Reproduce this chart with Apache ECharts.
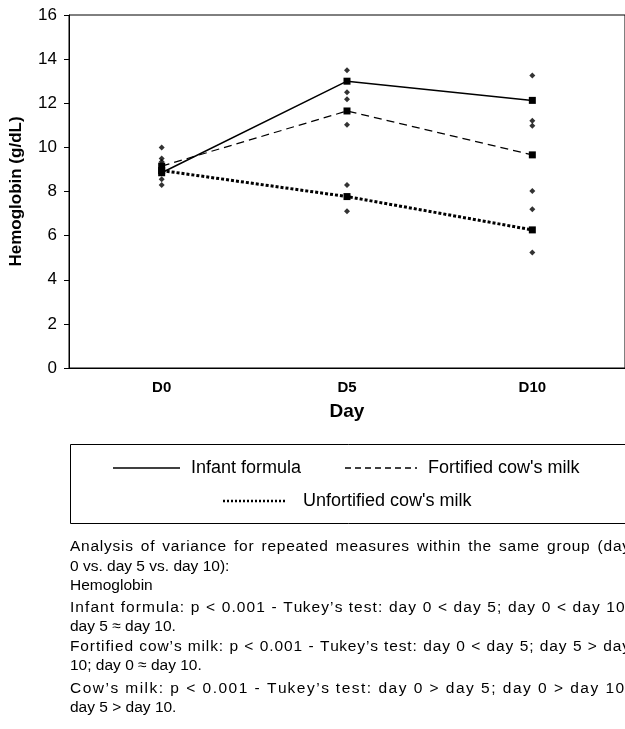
<!DOCTYPE html>
<html>
<head>
<meta charset="utf-8">
<script src="https://cdn.jsdelivr.net/npm/echarts@6/dist/echarts.min.js"></script>
<style>
html,body{margin:0;padding:0;background:#fff;}
#chart{width:625px;height:729px;}
</style>
</head>
<body>
<div id="chart"></div>
<script>
// ---- data ----
const categories = ['D0', 'D5', 'D10'];
const yTicks = [0, 2, 4, 6, 8, 10, 12, 14, 16];
const infantFormula = [8.85, 13.0, 12.13];
const fortifiedMilk = [9.15, 11.65, 9.66];
const unfortifiedMilk = [8.95, 7.77, 6.26];
// individual spread points (diamonds) per day
const pointsD0 = [10.0, 9.5, 9.35, 8.55, 8.3];
const pointsD5 = [13.5, 12.5, 12.18, 11.02, 8.3, 7.1];
const pointsD10 = [13.26, 11.21, 10.98, 8.02, 7.19, 5.23];
const seriesNames = ['Infant formula', "Fortified cow's milk", "Unfortified cow's milk"];
const noteLines = [
  'Analysis of variance for repeated measures within the same group (day',
  '0 vs. day 5 vs. day 10):',
  'Hemoglobin',
  'Infant formula: p < 0.001 - Tukey\u2019s test: day 0 < day 5; day 0 < day 10;',
  'day 5 \u2248 day 10.',
  'Fortified cow\u2019s milk: p < 0.001 - Tukey\u2019s test: day 0 < day 5; day 5 > day',
  '10; day 0 \u2248 day 10.',
  'Cow\u2019s milk: p < 0.001 - Tukey\u2019s test: day 0 > day 5; day 0 > day 10;',
  'day 5 > day 10.'
];
const justifiedLines = [true, false, false, true, false, true, false, true, false];

const FONT = "'Liberation Sans', Arial, Helvetica, sans-serif";
const spreadData = [];
[pointsD0, pointsD5, pointsD10].forEach((arr, i) => arr.forEach(v => spreadData.push([categories[i], v])));

const chart = echarts.init(document.getElementById('chart'), null, {renderer: 'canvas'});

const graphics = [];
// legend box
graphics.push({type: 'rect', left: 68, top: 442, shape: {width: 620, height: 79},
  style: {fill: 'none', stroke: '#000', lineWidth: 1}, z: 10});
function legendItem(x1, x2, y, textX, label, lineStyle) {
  graphics.push({type: 'line', shape: {x1: x1, y1: y, x2: x2, y2: y},
    style: Object.assign({stroke: '#000'}, lineStyle), z: 10});
  graphics.push({type: 'text', x: textX, y: y,
    style: {text: label, fill: '#000', font: '18px ' + FONT, textVerticalAlign: 'middle', textAlign: 'left'}, z: 10});
}
legendItem(113, 180, 468, 191, seriesNames[0], {lineWidth: 1.5});
legendItem(345, 417, 468, 428, seriesNames[1], {lineWidth: 1.3, lineDash: [6, 4]});
legendItem(223, 285, 501, 303, seriesNames[2], {lineWidth: 2.5, lineDash: [2, 2]});

// notes (justified lines: extra space shared between word gaps and letter gaps)
const noteFont = '15.5px ' + FONT;
const ctx = document.createElement('canvas').getContext('2d');
ctx.font = noteFont;
const noteY = [547, 567, 586, 608, 627, 647, 666, 689, 708];
const noteLeft = 70, noteRight = 630;
noteLines.forEach((t, i) => {
  if (!justifiedLines[i]) {
    graphics.push({type: 'text', x: noteLeft, y: noteY[i],
      style: {text: t, fill: '#000', font: noteFont, textVerticalAlign: 'middle', textAlign: 'left'}});
    return;
  }
  const chars = Array.from(t);
  const natural = ctx.measureText(t).width;
  const extra = noteRight - noteLeft - natural;
  let nSpaces = 0, nLetterGaps = 0;
  for (let k = 0; k < chars.length - 1; k++) {
    if (chars[k] === ' ') nSpaces++;
    else if (chars[k + 1] !== ' ') nLetterGaps++;
  }
  const perSpace = extra * 0.5 / nSpaces;
  const perLetter = extra * 0.5 / nLetterGaps;
  let prefix = '';
  let offset = 0;
  chars.forEach((c, k) => {
    const px = noteLeft + ctx.measureText(prefix).width + offset;
    if (c !== ' ') {
      graphics.push({type: 'text', x: px, y: noteY[i],
        style: {text: c, fill: '#000', font: noteFont, textVerticalAlign: 'middle', textAlign: 'left'}});
    }
    prefix += c;
    if (k < chars.length - 1) offset += (c === ' ' ? perSpace : (chars[k + 1] === ' ' ? 0 : perLetter));
  });
});

const option = {
  animation: false,
  backgroundColor: '#fff',
  grid: {left: 69, top: 15, width: 558, height: 353, show: true, borderColor: '#000', borderWidth: 1, backgroundColor: 'transparent'},
  xAxis: {
    type: 'category', data: categories, boundaryGap: true,
    axisLine: {lineStyle: {color: '#000', width: 1}},
    axisTick: {show: false},
    axisLabel: {color: '#000', fontSize: 15, fontWeight: 'bold', fontFamily: FONT, margin: 12},
    name: 'Day', nameLocation: 'middle', nameGap: 34,
    nameTextStyle: {color: '#000', fontSize: 19, fontWeight: 'bold', fontFamily: FONT}
  },
  yAxis: {
    type: 'value', min: yTicks[0], max: yTicks[yTicks.length - 1], interval: 2,
    axisLine: {show: true, lineStyle: {color: '#000', width: 1}},
    axisTick: {show: true, length: 5, lineStyle: {color: '#000'}},
    splitLine: {show: false},
    axisLabel: {color: '#000', fontSize: 17, fontFamily: FONT, margin: 12},
    name: 'Hemoglobin (g/dL)', nameLocation: 'middle', nameGap: 44, nameRotate: 90,
    nameTextStyle: {color: '#000', fontSize: 17, fontWeight: 'bold', fontFamily: FONT}
  },
  series: [
    {name: seriesNames[0], type: 'line', data: infantFormula, symbol: 'rect', symbolSize: 7,
      itemStyle: {color: '#000'}, lineStyle: {color: '#000', width: 1.5, type: 'solid'}, z: 3},
    {name: seriesNames[1], type: 'line', data: fortifiedMilk, symbol: 'rect', symbolSize: 7,
      itemStyle: {color: '#000'}, lineStyle: {color: '#000', width: 1.2, type: [8, 5]}, z: 3},
    {name: seriesNames[2], type: 'line', data: unfortifiedMilk, symbol: 'rect', symbolSize: 7,
      itemStyle: {color: '#000'}, lineStyle: {color: '#000', width: 3, type: [3, 2], cap: 'butt'}, z: 3},
    {name: 'points', type: 'scatter', data: spreadData, symbol: 'diamond', symbolSize: 6,
      itemStyle: {color: '#000'}, z: 4}
  ],
  graphic: graphics
};
chart.setOption(option);
</script>
</body>
</html>
